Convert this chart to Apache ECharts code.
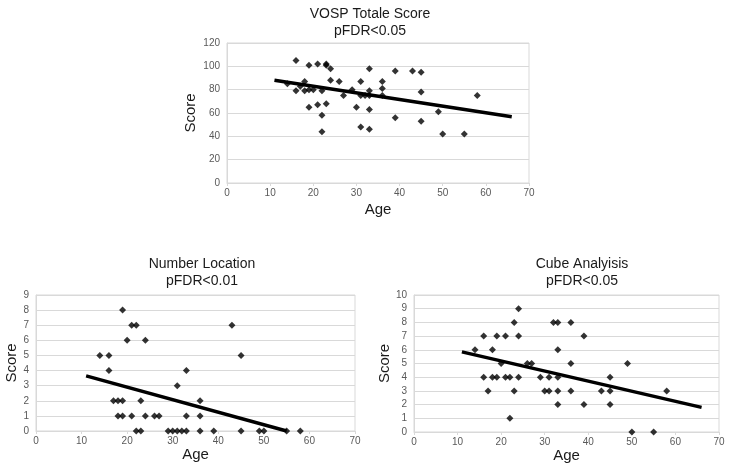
<!DOCTYPE html>
<html>
<head>
<meta charset="utf-8">
<script src="https://cdn.jsdelivr.net/npm/echarts@6/dist/echarts.min.js"></script>
<style>html,body{margin:0;padding:0;background:#fff}#c{width:729px;height:464px}</style>
</head>
<body>
<div id="c"></div>
<script>
// VOSP Totale Score
const vospAge   = [14,16,16,17,18,18,19,19,19,20,21,21,22,22,22,23,23,23,24,24,26,27,29,30,31,31,31,32,33,33,33,33,33,36,36,36,39,39,43,45,45,45,49,50,55,58];
const vospScore = [85,105,79,83,87,79,101,80,65,80,102,67,79,58,44,102,101,68,98,88,87,75,80,65,87,75,48,75,98,79,75,63,46,87,81,75,96,56,96,95,78,53,61,42,42,75];
const vospTrendAge = [11,66];
const vospTrendScore = [88,56.8];

// Number Location
const numAge   = [14,16,16,17,18,19,18,19,19,20,21,22,24,23,21,24,26,27,22,23,29,30,31,32,33,31,33,33,36,36,36,39,43,45,45,49,50,55,58];
const numScore = [5,5,4,2,2,2,1,1,8,6,7,7,6,2,1,1,1,1,0,0,0,0,0,0,0,3,4,1,2,1,0,0,7,5,0,0,0,0,0];
const numTrendAge = [11,55];
const numTrendScore = [3.65,0];

// Cube Analyisis
const cubeAge   = [14,16,16,17,18,18,19,19,20,21,21,22,22,23,23,24,24,24,26,27,29,30,31,31,32,33,33,33,33,33,36,36,36,39,39,43,45,45,45,49,50,55,58];
const cubeScore = [6,7,4,3,6,4,4,7,5,7,4,4,1,8,3,9,7,4,5,5,4,3,3,4,8,8,6,4,3,2,8,5,3,7,2,3,4,3,2,5,0,0,3];
const cubeTrendAge = [11,66];
const cubeTrendScore = [5.85,1.8];

const ageTicks = [0,10,20,30,40,50,60,70];

const FONT = 'Liberation Sans, Arial, sans-serif';
const zip = (a,b) => a.map((v,i)=>[v,b[i]]);

const panels = [
  {title:'VOSP Totale Score\npFDR<0.05', tx:365, ty:1, grid:{left:227, top:43, width:302, height:140}, ymax:120, yint:20, age:vospAge, score:vospScore, ta:vospTrendAge, ts:vospTrendScore, yGap:29, xGap:19},
  {title:'Number Location\npFDR<0.01', tx:197, ty:251, grid:{left:36, top:295, width:319, height:136}, ymax:9, yint:1, age:numAge, score:numScore, ta:numTrendAge, ts:numTrendScore, yGap:17, xGap:15},
  {title:'Cube Analyisis\npFDR<0.05', tx:577, ty:251, grid:{left:414, top:295, width:305, height:137}, ymax:10, yint:1, age:cubeAge, score:cubeScore, ta:cubeTrendAge, ts:cubeTrendScore, yGap:18, xGap:15}
];

const option = {
  animation:false,
  backgroundColor:'#fff',
  title: panels.map(p=>({text:p.title, left:p.tx, top:p.ty, textAlign:'center',
    textStyle:{fontFamily:FONT, fontSize:14, fontWeight:'normal', color:'#1a1a1a', lineHeight:17}})),
  grid: panels.map(p=>Object.assign({show:true, borderColor:'#d9d9d9', borderWidth:1, containLabel:false}, p.grid)),
  xAxis: panels.map((p,i)=>({type:'value', gridIndex:i, min:0, max:70, interval:10,
    name:'Age', nameLocation:'middle', nameGap:p.xGap,
    nameTextStyle:{fontFamily:FONT, fontSize:15, color:'#1a1a1a', verticalAlign:'top'},
    axisLine:{show:true, lineStyle:{color:'#d9d9d9'}},
    axisTick:{show:true, length:3, lineStyle:{color:'#d9d9d9'}},
    axisLabel:{fontFamily:FONT, fontSize:10, color:'#595959', margin:5},
    splitLine:{show:false}})),
  yAxis: panels.map((p,i)=>({type:'value', gridIndex:i, min:0, max:p.ymax, interval:p.yint,
    name:'Score', nameLocation:'middle', nameGap:p.yGap, nameRotate:90,
    nameTextStyle:{fontFamily:FONT, fontSize:15, color:'#1a1a1a'},
    axisLine:{show:true, lineStyle:{color:'#d9d9d9'}},
    axisTick:{show:false},
    axisLabel:{fontFamily:FONT, fontSize:10, color:'#595959', margin:7},
    splitLine:{show:true, lineStyle:{color:'#d9d9d9', width:1}}})),
  series: []
};
panels.forEach((p,i)=>{
  option.series.push({type:'scatter', xAxisIndex:i, yAxisIndex:i, data:zip(p.age,p.score),
    symbol:'diamond', symbolSize:7, itemStyle:{color:'#000'}, z:3});
  option.series.push({type:'line', xAxisIndex:i, yAxisIndex:i, data:zip(p.ta,p.ts),
    symbol:'none', lineStyle:{color:'#000', width:3.5}, z:2});
});
const chart = echarts.init(document.getElementById('c'), null, {renderer:'canvas'});
chart.setOption(option);
</script>
</body>
</html>
